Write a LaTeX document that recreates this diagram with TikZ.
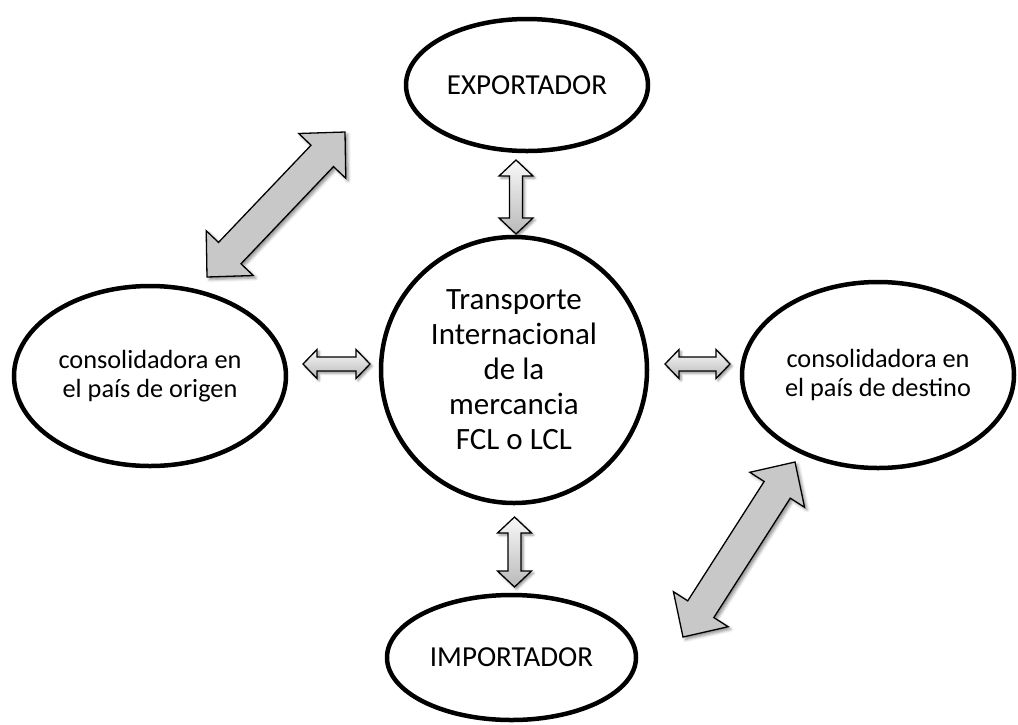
\documentclass[tikz,border=0pt]{standalone}
\usepackage{fontspec}
\setmainfont{Carlito}
\usetikzlibrary{shapes.geometric,shadows.blur,calc}

% #1 start coordinate, #2 end coordinate, #3 shaft half width,
% #4 head half width, #5 head length, #6 style
\newcommand\blockarrow[6]{%
  \path let \p1=(#1),\p2=(#2),
            \n1={atan2(\y2-\y1,\x2-\x1)},
            \n2={veclen(\x2-\x1,\y2-\y1)} in
        \pgfextra{\xdef\barang{\n1}\xdef\barlen{\n2}};
  \pgfmathsetmacro\barL{\barlen}%
  \pgfmathsetmacro\barlk{\barL-#5}%
  \begin{scope}[shift={(#1)},rotate=\barang]
    \path[#6] (0pt,0pt) -- (#5pt,#4pt) -- (#5pt,#3pt) -- (\barlk pt,#3pt)
      -- (\barlk pt,#4pt) -- (\barL pt,0pt) -- (\barlk pt,-#4pt)
      -- (\barlk pt,-#3pt) -- (#5pt,-#3pt) -- (#5pt,-#4pt) -- cycle;
  \end{scope}
}

\definecolor{biggray}{RGB}{200,200,200}

\begin{document}
\begin{tikzpicture}[x=1pt,y=-1pt,
  oval/.style={ellipse,draw=black,line width=4.5pt,fill=white,inner sep=0pt,align=center},
  bigarrow/.style={draw=black,line width=1.3pt,line join=miter,fill=biggray,
    blur shadow={shadow xshift=2.5pt,shadow yshift=-2.5pt,shadow blur radius=3pt,shadow opacity=45}},
  smallarrow/.style={draw=black,line width=1.3pt,line join=miter,top color=gray!5,bottom color=gray!55,
    blur shadow={shadow xshift=2pt,shadow yshift=-2pt,shadow blur radius=2.5pt,shadow opacity=45}},
  sidefont/.style={font=\fontsize{26.3}{29}\selectfont},
  titlefont/.style={font=\fontsize{29}{33}\selectfont},
  centerfont/.style={font=\fontsize{31}{35}\selectfont}]

\useasboundingbox (0,0) rectangle (1018,724);

% nodes
\node[oval,titlefont,minimum width=242pt,minimum height=132pt] (exp) at (527,85) {EXPORTADOR};
\node[oval,sidefont,minimum width=272pt,minimum height=180pt] (orig) at (150,376) {consolidadora en\\el país de origen};
\node[oval,centerfont,minimum width=266pt,minimum height=266pt] (trans) at (514,370) {Transporte\\Internacional\\de la\\mercancia\\FCL o LCL};
\node[oval,sidefont,minimum width=272pt,minimum height=186pt] (dest) at (878,375) {consolidadora en\\el país de destino};
\node[oval,titlefont,minimum width=249pt,minimum height=125pt] (imp) at (511.5,657.5) {IMPORTADOR};

% arrow end points
\coordinate (bigAa) at (207,277);
\coordinate (bigAb) at (345,132);
\coordinate (bigBa) at (683,637);
\coordinate (bigBb) at (795,462);
\coordinate (topA) at (516,160);
\coordinate (topB) at (516,234);
\coordinate (botA) at (514.5,517);
\coordinate (botB) at (514.5,587);
\coordinate (leftA) at (303,364);
\coordinate (leftB) at (370,364);
\coordinate (rightA) at (665,364);
\coordinate (rightB) at (730,364);

% block arrows
\blockarrow{bigAa}{bigAb}{15.5}{32.5}{33}{bigarrow}
\blockarrow{bigBa}{bigBb}{15.5}{32.5}{33}{bigarrow}
\blockarrow{topA}{topB}{6.5}{17}{16}{smallarrow}
\blockarrow{botA}{botB}{6.5}{17}{16}{smallarrow}
\blockarrow{leftA}{leftB}{7}{14.5}{14}{smallarrow}
\blockarrow{rightA}{rightB}{7}{14.5}{14}{smallarrow}

\end{tikzpicture}
\end{document}
